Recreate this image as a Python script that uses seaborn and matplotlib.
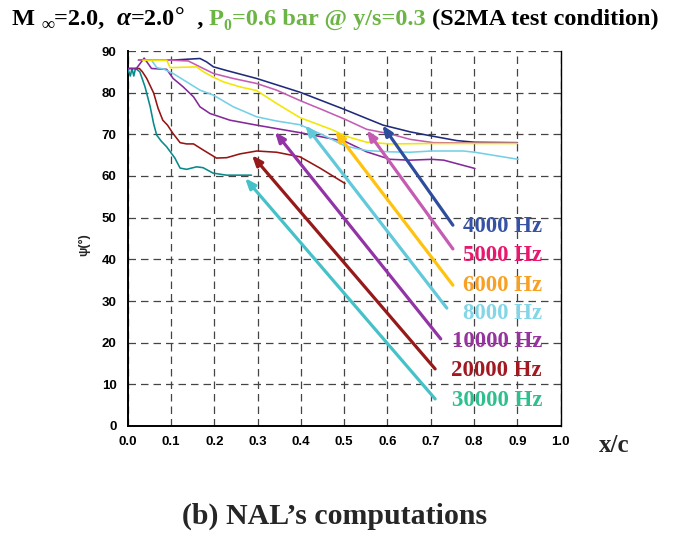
import numpy as np
import pandas as pd
import matplotlib
matplotlib.use("Agg")
import matplotlib.pyplot as plt
import seaborn as sns

# ---- data -------------------------------------------------------------
freqs = ["4000 Hz", "5000 Hz", "6000 Hz", "8000 Hz", "10000 Hz", "20000 Hz", "30000 Hz"]

x_4000 = [0.025, 0.10, 0.167, 0.182, 0.198, 0.229, 0.298, 0.398, 0.50, 0.552, 0.59, 0.629,
          0.652, 0.702, 0.76, 0.802, 0.90]
y_4000 = [87.8, 87.8, 88.2, 87.4, 86.2, 85.3, 83.4, 80.1, 76.0, 73.8, 72.2, 71.2,
          70.6, 69.6, 68.5, 68.1, 68.0]

x_5000 = [0.025, 0.10, 0.140, 0.167, 0.198, 0.244, 0.298, 0.344, 0.398, 0.452, 0.502,
          0.552, 0.606, 0.652, 0.706, 0.80, 0.90]
y_5000 = [87.8, 87.8, 87.6, 86.2, 84.6, 83.4, 82.2, 80.6, 78.1, 75.8, 73.6,
          71.2, 70.1, 68.8, 68.0, 67.9, 67.9]

x_6000 = [0.035, 0.090, 0.098, 0.130, 0.159, 0.175, 0.198, 0.221, 0.259, 0.298, 0.344,
          0.398, 0.475, 0.502, 0.552, 0.606, 0.70, 0.80, 0.90]
y_6000 = [87.8, 87.8, 86.0, 86.1, 86.2, 85.0, 83.7, 82.6, 81.4, 80.5, 77.4,
          74.0, 71.0, 69.6, 68.1, 67.7, 67.8, 67.8, 67.8]

x_8000 = [0.025, 0.055, 0.067, 0.082, 0.105, 0.136, 0.167, 0.198, 0.244, 0.298, 0.344,
          0.398, 0.452, 0.502, 0.552, 0.606, 0.652, 0.702, 0.775, 0.802, 0.902]
y_8000 = [87.8, 87.8, 86.0, 85.7, 84.6, 82.6, 80.6, 79.4, 76.6, 74.2, 73.2,
          72.3, 69.8, 67.2, 66.1, 65.8, 65.7, 66.0, 66.0, 65.7, 64.0]

x_10000 = [0.0, 0.020, 0.038, 0.055, 0.090, 0.105, 0.128, 0.152, 0.167, 0.190, 0.236,
           0.298, 0.398, 0.502, 0.552, 0.606, 0.652, 0.702, 0.730, 0.802]
y_10000 = [85.8, 85.8, 88.3, 85.8, 85.6, 83.4, 81.4, 79.0, 76.6, 75.0, 73.4,
           72.2, 70.4, 68.3, 65.8, 64.0, 63.8, 64.0, 63.8, 61.8]

x_20000 = [0.0, 0.027, 0.034, 0.044, 0.060, 0.070, 0.081, 0.092, 0.104, 0.121, 0.136,
           0.152, 0.175, 0.205, 0.229, 0.259, 0.298, 0.344, 0.398, 0.444, 0.502]
y_20000 = [85.8, 85.8, 85.0, 83.4, 79.9, 76.3, 73.4, 72.2, 70.3, 68.0, 67.7,
           67.7, 66.2, 64.3, 64.4, 65.3, 66.0, 65.7, 64.6, 61.9, 58.2]

x_30000 = [0.0, 0.006, 0.010, 0.014, 0.018, 0.022, 0.028, 0.040, 0.052, 0.060, 0.067,
           0.078, 0.090, 0.109, 0.121, 0.136, 0.159, 0.174, 0.197, 0.228, 0.286]
y_30000 = [85.8, 84.0, 85.8, 84.0, 85.8, 85.5, 85.0, 81.4, 76.6, 72.5, 69.8,
           68.3, 67.0, 64.3, 61.9, 61.6, 62.2, 62.0, 60.7, 60.2, 60.2]

# arrow heads (on the curves) and tails (next to the labels), in data units
arrow_head_x = [0.588, 0.552, 0.479, 0.410, 0.340, 0.287, 0.271]
arrow_head_y = [72.2, 71.0, 70.8, 72.2, 70.6, 65.0, 59.5]
arrow_tail_x = [0.751, 0.751, 0.751, 0.737, 0.723, 0.710, 0.710]
arrow_tail_y = [48.2, 42.5, 33.8, 28.3, 20.9, 13.7, 6.5]

label_y = [47.8, 41.0, 33.8, 27.1, 20.2, 13.2, 6.2]

x_ticks = [0.0, 0.1, 0.2, 0.3, 0.4, 0.5, 0.6, 0.7, 0.8, 0.9, 1.0]
y_ticks = [0, 10, 20, 30, 40, 50, 60, 70, 80, 90]

# ---- styles -----------------------------------------------------------
curve_colors = ["#1f2a7c", "#c45cb4", "#f2e600", "#74d0e6", "#84289a", "#951414", "#068a8a"]
arrow_colors = ["#2f4d9e", "#c45cb4", "#ffc20e", "#62c9da", "#9233a6", "#961a1a", "#45c2c8"]
label_colors = ["#3652a4", "#e8186e", "#f8a023", "#82d6e6", "#96349e", "#a11a22", "#2fbf8e"]

curves = [(x_4000, y_4000), (x_5000, y_5000), (x_6000, y_6000), (x_8000, y_8000),
          (x_10000, y_10000), (x_20000, y_20000), (x_30000, y_30000)]

sns.set_style("white")
plt.rcParams["font.family"] = ["Liberation Sans", "DejaVu Sans"]

fig = plt.figure(figsize=(6.8, 5.33), dpi=100)
W, H = 680, 533
ax = fig.add_axes([127.7 / W, 107 / H, 433 / W, 375 / H])

# draw curves back to front
draw_order = [6, 5, 4, 3, 0, 1, 2]
for i in draw_order:
    cx, cy = curves[i]
    df = pd.DataFrame({"x": cx, "psi": cy})
    sns.lineplot(data=df, x="x", y="psi", sort=False, estimator=None,
                 color=curve_colors[i], linewidth=1.15, ax=ax, zorder=3)

ax.set_xlim(0, 1.0)
ax.set_ylim(0, 90)
ax.set_xticks(x_ticks)
ax.set_yticks(y_ticks)
ax.set_xticklabels([f"{v:.1f}" for v in x_ticks])
ax.set_yticklabels([str(v) for v in y_ticks])
ax.set_xticks(np.arange(0, 1.0001, 0.02), minor=True)
ax.set_yticks(np.arange(0, 90.001, 2), minor=True)
ax.tick_params(axis="both", which="both", direction="in", colors="black")
ax.tick_params(axis="both", which="major", length=5, width=1.0, labelsize=9.5, pad=7)
ax.tick_params(axis="y", which="major", pad=8)
ax.tick_params(axis="both", which="minor", length=3, width=0.8)
ax.tick_params(axis="x", which="both", top=False)
ax.tick_params(axis="y", which="both", right=False)
for lab in ax.get_xticklabels() + ax.get_yticklabels():
    lab.set_fontweight("bold")
ax.set_xlabel("")
ax.set_ylabel("")

ax.grid(True, which="major", color="#444444", linestyle=(0, (6, 4)), linewidth=0.9)
ax.set_axisbelow(True)
for side in ["left", "bottom", "right"]:
    ax.spines[side].set_visible(True)
    ax.spines[side].set_color("black")
    ax.spines[side].set_linewidth(1.4)
ax.spines["right"].set_linewidth(1.0)
ax.spines["top"].set_visible(False)

# arrows and frequency labels
for i, name in enumerate(freqs):
    ax.annotate("", xy=(arrow_head_x[i], arrow_head_y[i]),
                xytext=(arrow_tail_x[i], arrow_tail_y[i]),
                arrowprops=dict(arrowstyle="-|>,head_length=0.6,head_width=0.24",
                                color=arrow_colors[i], lw=2.3, shrinkA=0, shrinkB=0),
                zorder=5)
    ax.text(0.957, label_y[i], name, ha="right", va="center", color=label_colors[i],
            fontsize=16.5, fontweight="bold", family="Liberation Serif", zorder=6)

serif = "Liberation Serif"

# axis titles
fig.text(84 / W, 1 - 245 / H, "ψ(°)", rotation=90, ha="center", va="center",
         fontsize=9, fontweight="bold", family=["Liberation Sans", "DejaVu Sans"])
fig.text(614 / W, 1 - 445 / H, "x/c", ha="center", va="center",
         fontsize=18, fontweight="bold", family=serif)
fig.text(335 / W, 1 - 516 / H, "(b) NAL’s computations", ha="center", va="center",
         fontsize=21.5, fontweight="bold", family=serif)

# top condition line, assembled from coloured runs
green = "#6cb545"
runs = [
    ("M ", "black", 1.0, 0.0, "normal"),
    ("∞", "black", 0.75, -0.22, "normal"),
    ("=2.0,  ", "black", 1.0, 0.0, "normal"),
    ("α", "black", 1.05, 0.0, "italic"),
    ("=2.0", "black", 1.0, 0.0, "normal"),
    ("°", "black", 1.0, 0.05, "normal"),
    ("  , ", "black", 1.0, 0.0, "normal"),
    ("P", green, 1.0, 0.0, "normal"),
    ("0", green, 0.65, -0.22, "normal"),
    ("=0.6 bar @ y/s=0.3 ", green, 1.0, 0.0, "normal"),
    ("(S2MA test condition)", "black", 1.0, 0.0, "normal"),
]
base_size = 17.5
fig.canvas.draw()
renderer = fig.canvas.get_renderer()
xpos = 12 / W
ybase = 1 - 25 / H
for text, col, scale, dy, style in runs:
    fam = [serif, "DejaVu Serif"]
    t = fig.text(xpos, ybase + dy * base_size / 72 / 5.33, text, color=col,
                 fontsize=base_size * scale, fontweight="bold", fontstyle=style,
                 family=fam, ha="left", va="baseline")
    bb = t.get_window_extent(renderer=renderer)
    xpos += bb.width / W

fig.savefig("out.png", dpi=100)
